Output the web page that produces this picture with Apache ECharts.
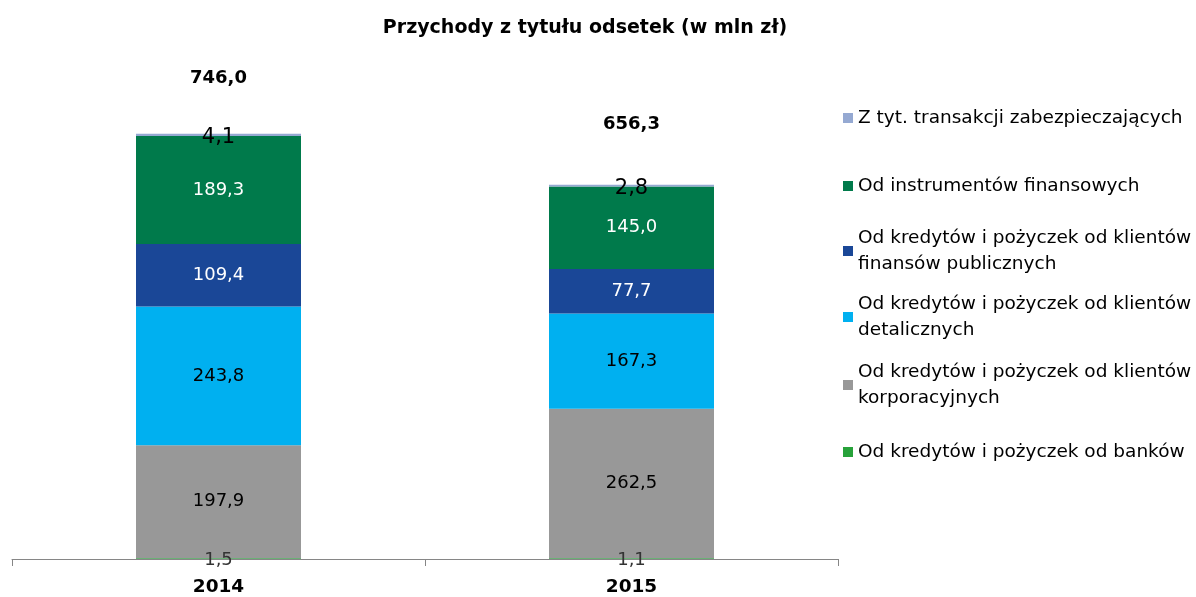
<!DOCTYPE html>
<html>
<head>
<meta charset="utf-8">
<script src="https://cdn.jsdelivr.net/npm/echarts@6/dist/echarts.min.js"></script>
<style>
  html, body { margin: 0; padding: 0; background: #fff; }
  #chart { width: 1196px; height: 597px; }
</style>
</head>
<body>
<div id="chart"></div>
<script>
// dane
const years = ['2014', '2015'];
const seriesNames = [
    'Od kredytów i pożyczek od banków',
    'Od kredytów i pożyczek od klientów korporacyjnych',
    'Od kredytów i pożyczek od klientów detalicznych',
    'Od kredytów i pożyczek od klientów finansów publicznych',
    'Od instrumentów finansowych',
    'Z tyt. transakcji zabezpieczających'
];
const banks = [1.5, 1.1];
const corporate = [197.9, 262.5];
const retail = [243.8, 167.3];
const publicFin = [109.4, 77.7];
const instruments = [189.3, 145.0];
const hedging = [4.1, 2.8];
const totals = [746.0, 656.3];

const values = [banks, corporate, retail, publicFin, instruments, hedging];
const colors = ['#27A23A', '#989898', '#00B0F0', '#1A4797', '#007A4B', '#95A9D2'];
const labelColors = ['#333', '#000', '#000', '#fff', '#fff', '#000'];
const labelSizes = [18, 18, 18, 18, 18, 21];

const FONT = '"DejaVu Sans", sans-serif';
const fmt = v => v.toFixed(1).replace('.', ',');

const chart = echarts.init(document.getElementById('chart'));

let series = values.map((data, i) => ({
    name: seriesNames[i],
    type: 'bar',
    stack: 'all',
    barWidth: 165,
    data: data,
    itemStyle: { color: colors[i] },
    label: {
        show: true,
        position: 'inside',
        offset: i === 5 ? [0, 3] : (i === 0 ? [0, 2] : [0, 0]),
        color: labelColors[i],
        fontFamily: FONT,
        fontSize: labelSizes[i],
        formatter: p => fmt(p.value)
    }
}));

// sumy nad słupkami
const totalGap = [46, 52];
series.push({
    name: 'Suma',
    type: 'bar',
    stack: 'all',
    barWidth: 165,
    data: totals.map((t, i) => ({
        value: 0,
        label: { distance: totalGap[i] }
    })),
    itemStyle: { color: 'transparent' },
    label: {
        show: true,
        position: 'top',
        color: '#000',
        fontFamily: FONT,
        fontWeight: 'bold',
        fontSize: 18,
        formatter: p => fmt(totals[p.dataIndex])
    }
});

// legenda - każdy wpis osobno, jak w Excelu
const legendCenters = [118, 186, 251, 317, 385, 452];
const LH = 26;
const legends = seriesNames.slice().reverse().map((name, k) => {
    const twoLines = name.indexOf('klientów ') >= 0;
    return {
        orient: 'vertical',
        left: 843,
        top: legendCenters[k] - (twoLines ? LH * 1.5 : LH / 2),
        padding: 0,
        itemWidth: 10,
        itemHeight: 10,
        itemGap: 0,
        icon: 'rect',
        selectedMode: false,
        formatter: n => n.replace('klientów ', 'klientów\n'),
        textStyle: {
            fontFamily: FONT,
            fontSize: 18.5,
            lineHeight: LH,
            color: '#000',
            padding: twoLines ? [LH, 0, 0, 0] : 0
        },
        data: [name]
    };
});

chart.setOption({
    animation: false,
    title: {
        text: 'Przychody z tytułu odsetek (w mln zł)',
        left: 580,
        top: 14,
        textAlign: 'center',
        textStyle: { fontFamily: FONT, fontWeight: 'bold', fontSize: 19, color: '#000' }
    },
    legend: legends,
    grid: { left: 12, right: 358, top: 46, bottom: 37, containLabel: false },
    xAxis: {
        type: 'category',
        data: years,
        axisLine: { lineStyle: { color: '#868686', width: 1 } },
        axisTick: { show: true, length: 7, lineStyle: { color: '#868686' } },
        axisLabel: {
            margin: 19,
            color: '#000',
            fontFamily: FONT,
            fontWeight: 'bold',
            fontSize: 18.5
        }
    },
    yAxis: {
        type: 'value',
        min: 0,
        max: 900,
        show: false,
        splitLine: { show: false }
    },
    series: series
});
</script>
</body>
</html>
